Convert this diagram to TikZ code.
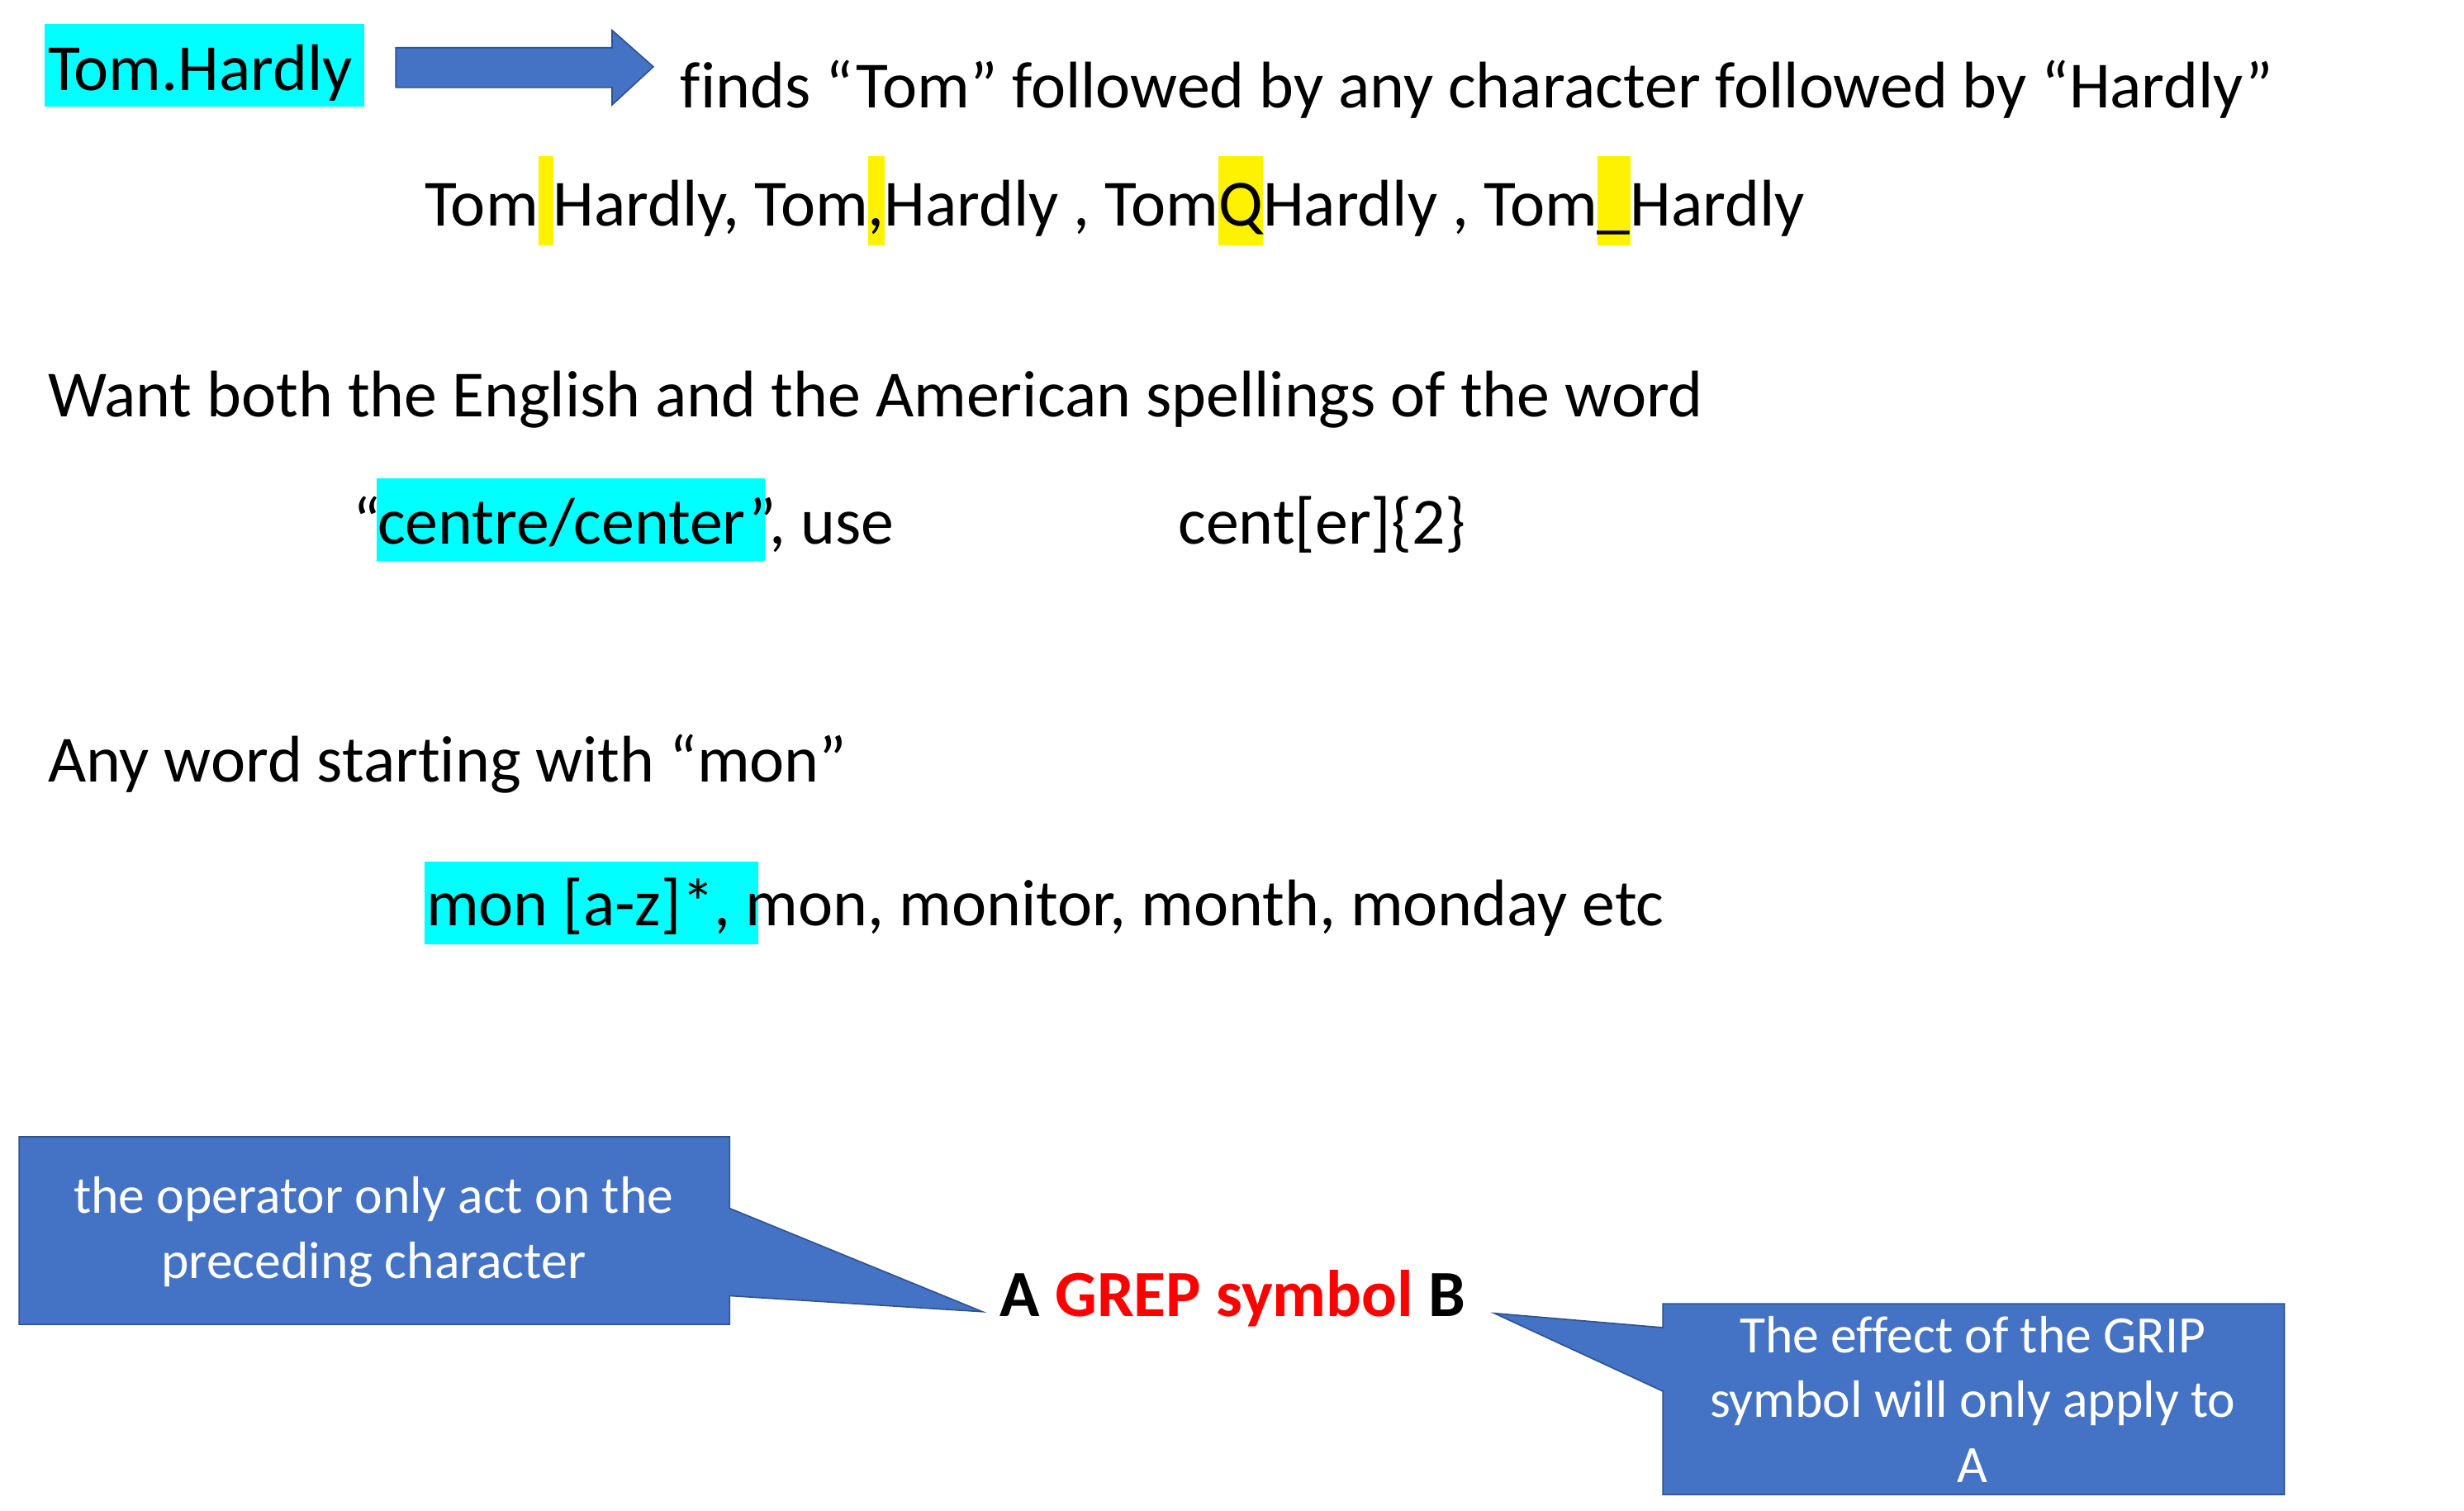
\documentclass[tikz,border=0pt]{standalone}
\usepackage{fontspec}
\setmainfont{Carlito}[Ligatures={NoCommon}]
\definecolor{cy}{RGB}{0,255,255}
\definecolor{cfill}{RGB}{68,114,196}
\definecolor{cdraw}{RGB}{47,82,143}
\newcommand{\hy}[1]{{\setlength\fboxsep{0pt}\colorbox{yellow}{\rule[-0.3em]{0pt}{1.35em}#1}}}
\begin{document}
\begin{tikzpicture}[x=0.5mm,y=-0.5mm,
  txt/.style={anchor=base west,inner sep=0pt,font=\fontsize{59}{70}\selectfont},
  call/.style={fill=cfill,draw=cdraw,line width=1.2pt},
  ctxt/.style={text=white,align=center,font=\fontsize{47}{58}\selectfont,inner sep=0pt}]
\useasboundingbox (0,0) rectangle (1550,950);
% highlights
\fill[cy] (28,15) rectangle (229,67);
\fill[cy] (237,301) rectangle (481,353);
\fill[cy] (267,542) rectangle (477,594);
\node[txt] (t1) at (30,57) {Tom.Hardly};
\draw[call] (249,30) -- (385,30) -- (385,19) -- (411,42) -- (385,66) -- (385,55) -- (249,55) -- cycle;
\coordinate (ar) at (411,42);
\node[txt] (t2) at (428,68) {finds “Tom” followed by any character followed by “Hardly”};
\node[txt] (t3) at (267,142) {Tom\hy{\ }Hardly, Tom\hy{,}Hardly , Tom\hy{Q}Hardly , Tom\hy{\_}Hardly};
\node[txt] (t4) at (30,262) {Want both the English and the American spellings of the word};
\node[txt] (t5) at (222,342) {“centre/center”, use};
\node[txt] (t6) at (741,342) {cent[er]\{2\}};
\node[txt] (t7) at (30,492) {Any word starting with “mon”};
\node[txt] (t8) at (268,582) {mon [a-z]*, mon, monitor, month, monday etc};
\node[txt,font=\fontsize{59}{70}\selectfont\bfseries] (ab) at (629,828) {A \textcolor{red}{GREP symbol} B};
\coordinate (pa) at (618,825);
\coordinate (pb) at (940,826);
\draw[call] (12,715) -- (459,715) -- (459,760) -- (pa) -- (459,815) -- (459,833) -- (12,833) -- cycle;
\draw[call] (1046,820) -- (1437,820) -- (1437,940) -- (1046,940) -- (1046,875) -- (pb) -- (1046,835) -- cycle;
\node[ctxt] (c1) at (235,775) {the operator only act on the\\preceding character};
\node[ctxt] (c2) at (1241,880) {The effect of the GRIP\\symbol will only apply to\\A};
\end{tikzpicture}
\end{document}
